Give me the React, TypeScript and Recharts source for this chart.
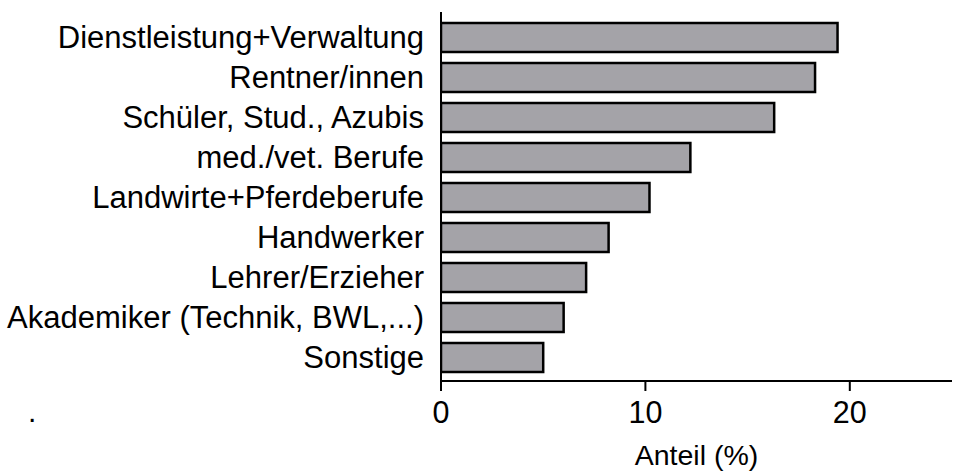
import React from 'react';
import { BarChart, Bar, XAxis, YAxis, Customized } from 'recharts';

const categories = [
  'Dienstleistung+Verwaltung',
  'Rentner/innen',
  'Schüler, Stud., Azubis',
  'med./vet. Berufe',
  'Landwirte+Pferdeberufe',
  'Handwerker',
  'Lehrer/Erzieher',
  'Akademiker (Technik, BWL,...)',
  'Sonstige',
];
const shares = [19.4, 18.3, 16.3, 12.2, 10.2, 8.2, 7.1, 6.0, 5.0];
const xTicks = [0, 10, 20];

const data = categories.map((name, i) => ({ name, value: shares[i] }));

const FONT = '"Liberation Sans", Arial, sans-serif';

const Dot = () => (
  <text x={28} y={422} fontSize={30} fontFamily={FONT} fill="#000">.</text>
);

export default function App() {
  return (
    <div style={{ position: 'absolute', left: 0, top: 0 }}>
      <BarChart
        width={953}
        height={473}
        data={data}
        layout="vertical"
        margin={{ top: 12, right: 1, bottom: 0, left: 0 }}
        barSize={29}
      >
        <XAxis
          type="number"
          domain={[0, 25]}
          ticks={xTicks}
          allowDataOverflow
          height={92}
          tickSize={10}
          tickMargin={10}
          axisLine={{ stroke: '#000', strokeWidth: 2 }}
          tickLine={{ stroke: '#000', strokeWidth: 2 }}
          tick={{ fill: '#000', fontSize: 30.5, fontFamily: FONT }}
          label={{
            value: 'Anteil (%)',
            position: 'insideBottom',
            offset: 8,
            fill: '#000',
            fontSize: 28.5,
            fontFamily: FONT,
          }}
        />
        <YAxis
          type="category"
          dataKey="name"
          width={441}
          padding={{ top: 5, bottom: 4 }}
          tickLine={false}
          tickSize={0}
          tickMargin={17}
          interval={0}
          axisLine={{ stroke: '#000', strokeWidth: 2 }}
          tick={{ fill: '#000', fontSize: 31, fontFamily: FONT }}
        />
        <Bar
          dataKey="value"
          fill="#a4a3a8"
          stroke="#000"
          strokeWidth={2.5}
          isAnimationActive={false}
        />
        <Customized component={Dot} />
      </BarChart>
    </div>
  );
}
